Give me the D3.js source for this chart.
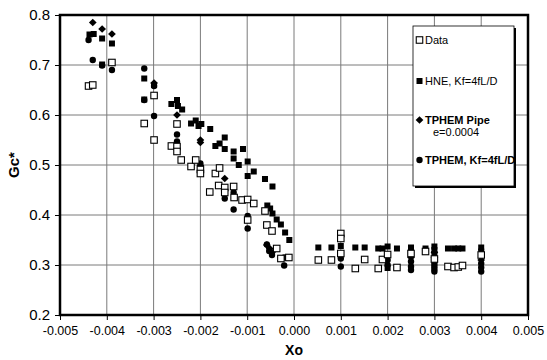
<!DOCTYPE html>
<html>
<head>
<meta charset="utf-8">
<script src="https://cdn.jsdelivr.net/npm/d3@7"></script>
<style>
  body { margin: 0; background: #fff; }
  text { font-family: "Liberation Sans", Arial, sans-serif; }
</style>
</head>
<body>
<div id="chart"></div>
<script>
const WIDTH = 547;
const HEIGHT = 360;
const MARGIN = {left: 60, right: 19, top: 15, bottom: 45};

const X_TICKS = [-0.005, -0.004, -0.003, -0.002, -0.001, 0, 0.001, 0.002, 0.003, 0.004, 0.005];
const X_TICK_LABELS = ["-0.005", "-0.004", "-0.003", "-0.002", "-0.001", "0.000", "0.001", "0.002", "0.003", "0.004", "0.005"];
const Y_TICKS = [0.2, 0.3, 0.4, 0.5, 0.6, 0.7, 0.8];

// measured data (open squares)
const data = [
  [-0.00439, 0.658], [-0.00430, 0.660], [-0.00389, 0.705], [-0.00320, 0.583],
  [-0.00299, 0.550], [-0.00299, 0.639], [-0.00250, 0.582], [-0.00262, 0.538],
  [-0.00250, 0.537], [-0.00250, 0.527], [-0.00241, 0.510], [-0.00220, 0.497],
  [-0.00210, 0.510], [-0.00200, 0.491], [-0.00200, 0.483], [-0.00168, 0.483],
  [-0.00159, 0.494], [-0.00180, 0.446], [-0.00161, 0.459], [-0.00148, 0.455],
  [-0.00148, 0.445], [-0.00129, 0.457], [-0.00128, 0.435], [-0.00111, 0.430],
  [-0.00099, 0.431], [-0.00086, 0.423], [-0.00099, 0.390], [-0.00062, 0.408],
  [-0.00058, 0.380], [-0.00047, 0.368], [-0.00037, 0.333], [-0.00028, 0.313],
  [-0.00011, 0.315], [0.00052, 0.310], [0.00080, 0.310], [0.00100, 0.363],
  [0.00100, 0.353], [0.00100, 0.323], [0.00131, 0.293], [0.00151, 0.311],
  [0.00180, 0.293], [0.00189, 0.311], [0.00200, 0.321], [0.00220, 0.295],
  [0.00250, 0.323], [0.00281, 0.327], [0.00300, 0.312], [0.00329, 0.297],
  [0.00342, 0.295], [0.00351, 0.296], [0.00360, 0.299], [0.00400, 0.320]
];

// HNE, Kf=4fL/D (filled squares)
const hne = [
  [-0.00437, 0.761], [-0.00428, 0.762], [-0.00410, 0.753], [-0.00389, 0.743],
  [-0.00410, 0.701], [-0.00320, 0.673], [-0.00320, 0.631], [-0.00299, 0.660],
  [-0.00262, 0.622], [-0.00250, 0.630], [-0.00248, 0.618], [-0.00239, 0.611],
  [-0.00220, 0.583], [-0.00210, 0.589], [-0.00204, 0.578], [-0.00198, 0.582],
  [-0.00179, 0.572], [-0.00168, 0.538], [-0.00159, 0.543], [-0.00148, 0.555],
  [-0.00148, 0.532], [-0.00129, 0.527], [-0.00129, 0.513], [-0.00118, 0.500],
  [-0.00109, 0.532], [-0.00099, 0.507], [-0.00099, 0.478], [-0.00086, 0.487],
  [-0.00062, 0.472], [-0.00046, 0.457], [-0.00057, 0.419], [-0.00051, 0.413],
  [-0.00046, 0.403], [-0.00037, 0.391], [-0.00028, 0.381], [-0.00019, 0.365],
  [-0.00010, 0.350], [0.00052, 0.335], [0.00080, 0.335], [0.00100, 0.338],
  [0.00131, 0.335], [0.00151, 0.335], [0.00180, 0.333], [0.00189, 0.333],
  [0.00200, 0.337], [0.00200, 0.294], [0.00220, 0.333], [0.00250, 0.335],
  [0.00250, 0.330], [0.00281, 0.333], [0.00300, 0.337], [0.00300, 0.330],
  [0.00300, 0.322], [0.00329, 0.333], [0.00342, 0.333], [0.00351, 0.333],
  [0.00360, 0.333], [0.00400, 0.335], [0.00400, 0.327]
];

// TPHEM Pipe e=0.0004 (diamonds)
const tphemPipe = [
  [-0.00430, 0.785], [-0.00410, 0.772], [-0.00389, 0.762], [-0.00299, 0.664],
  [-0.00250, 0.600], [-0.00200, 0.550], [-0.00200, 0.545], [-0.00200, 0.499],
  [-0.00148, 0.473], [-0.00058, 0.340], [-0.00052, 0.333], [-0.00047, 0.325],
  [0.00250, 0.315], [0.00300, 0.325], [0.00300, 0.315], [0.00400, 0.310]
];

// TPHEM, Kf=4fL/D (filled circles)
const tphemKf = [
  [-0.00439, 0.750], [-0.00430, 0.710], [-0.00410, 0.699], [-0.00389, 0.690],
  [-0.00320, 0.693], [-0.00320, 0.630], [-0.00299, 0.658], [-0.00299, 0.598],
  [-0.00250, 0.561], [-0.00250, 0.547], [-0.00200, 0.503], [-0.00148, 0.433],
  [-0.00129, 0.445], [-0.00129, 0.411], [-0.00099, 0.398], [-0.00099, 0.373],
  [-0.00058, 0.341], [-0.00053, 0.328], [-0.00047, 0.320], [-0.00021, 0.315],
  [-0.00021, 0.299], [0.00100, 0.313], [0.00100, 0.297], [0.00200, 0.310],
  [0.00200, 0.300], [0.00250, 0.307], [0.00250, 0.297], [0.00250, 0.290],
  [0.00300, 0.307], [0.00300, 0.302], [0.00300, 0.297], [0.00300, 0.292],
  [0.00300, 0.287], [0.00400, 0.303], [0.00400, 0.295], [0.00400, 0.287]
];

const LEGEND = [
  {label: ["Data"], type: "data"},
  {label: ["HNE, Kf=4fL/D"], type: "hne"},
  {label: ["TPHEM Pipe", "e=0.0004"], type: "pipe"},
  {label: ["TPHEM, Kf=4fL/D"], type: "kf"}
];

const svg = d3.select("#chart").append("svg")
  .attr("width", WIDTH)
  .attr("height", HEIGHT);

svg.append("rect").attr("width", WIDTH).attr("height", HEIGHT).attr("fill", "#fff");

const x = d3.scaleLinear().domain([-0.005, 0.005]).range([MARGIN.left, WIDTH - MARGIN.right]);
const y = d3.scaleLinear().domain([0.2, 0.8]).range([HEIGHT - MARGIN.bottom, MARGIN.top]);

// gridlines
svg.append("g")
  .selectAll("line.vg")
  .data(X_TICKS.slice(1, -1))
  .join("line")
  .attr("x1", d => x(d)).attr("x2", d => x(d))
  .attr("y1", y(0.8)).attr("y2", y(0.2))
  .attr("stroke", "#7a7a7a").attr("stroke-width", 1);

svg.append("g")
  .selectAll("line.hg")
  .data(Y_TICKS.slice(1, -1))
  .join("line")
  .attr("x1", x(-0.005)).attr("x2", x(0.005))
  .attr("y1", d => y(d)).attr("y2", d => y(d))
  .attr("stroke", "#7a7a7a").attr("stroke-width", 1);

// axes
const xAxis = svg.append("g")
  .attr("transform", "translate(0," + y(0.2) + ")")
  .call(d3.axisBottom(x).tickValues(X_TICKS).tickFormat((d, i) => X_TICK_LABELS[i]).tickSizeOuter(0).tickSize(5).tickPadding(6));
xAxis.select(".domain").remove();
xAxis.selectAll("text").style("font-size", "12.5px").attr("fill", "#000");

const yAxis = svg.append("g")
  .attr("transform", "translate(" + x(-0.005) + ",0)")
  .call(d3.axisLeft(y).tickValues(Y_TICKS).tickFormat(d3.format(".1f")).tickSizeOuter(0).tickSize(5).tickPadding(5));
yAxis.select(".domain").remove();
yAxis.selectAll("text").style("font-size", "15px").attr("fill", "#000");

// frame
svg.append("rect")
  .attr("x", x(-0.005)).attr("y", y(0.8))
  .attr("width", x(0.005) - x(-0.005))
  .attr("height", y(0.2) - y(0.8))
  .attr("fill", "none").attr("stroke", "#000").attr("stroke-width", 2.5);

// axis titles
svg.append("text")
  .attr("transform", "translate(19," + y(0.5) + ") rotate(-90)")
  .attr("text-anchor", "middle")
  .style("font-size", "15px").style("font-weight", "bold")
  .text("Gc*");

svg.append("text")
  .attr("x", x(0)).attr("y", 355)
  .attr("text-anchor", "middle")
  .style("font-size", "14px").style("font-weight", "bold")
  .text("Xo");

// marker drawing
function drawMarker(g, type, cx, cy) {
  if (type === "data") {
    g.append("rect").attr("x", cx - 3.25).attr("y", cy - 3.25).attr("width", 6.5).attr("height", 6.5)
      .attr("fill", "#fff").attr("stroke", "#000").attr("stroke-width", 1.1);
  } else if (type === "hne") {
    g.append("rect").attr("x", cx - 3).attr("y", cy - 3).attr("width", 6).attr("height", 6)
      .attr("fill", "#000");
  } else if (type === "pipe") {
    g.append("path").attr("transform", "translate(" + cx + "," + cy + ")")
      .attr("d", d3.symbol().type(d3.symbolDiamond2).size(38)).attr("fill", "#000");
  } else {
    g.append("circle").attr("cx", cx).attr("cy", cy).attr("r", 3.2).attr("fill", "#000");
  }
}

const plot = svg.append("g");
const series = [["pipe", tphemPipe], ["kf", tphemKf], ["hne", hne], ["data", data]];
series.forEach(([type, pts]) => {
  const g = plot.append("g");
  pts.forEach(p => drawMarker(g, type, x(p[0]), y(p[1])));
});

// legend
const lg = svg.append("g").attr("transform", "translate(413,26)");
lg.append("rect").attr("x", 2).attr("y", 2).attr("width", 101).attr("height", 160).attr("fill", "#000");
lg.append("rect").attr("x", 0).attr("y", 0).attr("width", 101).attr("height", 160)
  .attr("fill", "#fff").attr("stroke", "#000").attr("stroke-width", 0.8);

const legendY = [14, 55, 94, 134];
LEGEND.forEach((item, i) => {
  const g = lg.append("g");
  drawMarker(g, item.type, 6.5, legendY[i]);
  item.label.forEach((t, j) => {
    g.append("text")
      .attr("x", j === 0 ? 12 : 20)
      .attr("y", legendY[i] + 4 + j * 12)
      .style("font-size", "11px")
      .style("font-weight", j === 0 && i >= 2 ? "bold" : "normal")
      .text(t);
  });
});
</script>
</body>
</html>
